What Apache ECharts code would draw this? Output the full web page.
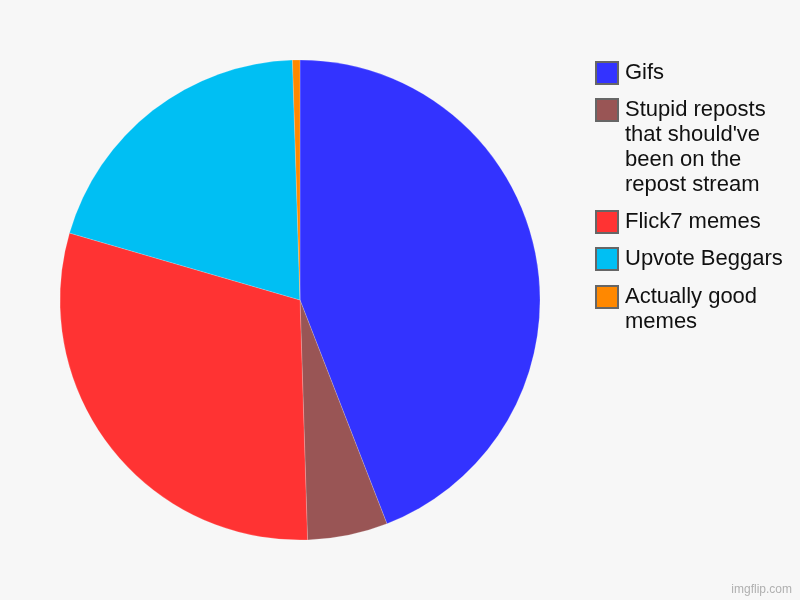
<!DOCTYPE html>
<html>
<head>
<meta charset="utf-8">
<script src="https://cdn.jsdelivr.net/npm/echarts@6/dist/echarts.min.js"></script>
<style>html,body{margin:0;padding:0;background:#f7f7f7}#c{width:800px;height:600px}</style>
</head>
<body>
<div id="c"></div>
<script>
const categories = ["Gifs", "Stupid reposts that should've been on the repost stream", "Flick7 memes", "Upvote Beggars", "Actually good memes"];
const values = [44.1, 5.4, 30.0, 20.0, 0.5];
const colors = ["#3333ff", "#995555", "#ff3333", "#00bff3", "#ff8800"];

const chart = echarts.init(document.getElementById('c'), null, {renderer: 'canvas'});

// legend built from the categories/colors arrays, icon aligned with first text line
const legendTops = [61, 98, 210, 247, 285];
const legendGraphics = [];
categories.forEach((name, i) => {
  legendGraphics.push({
    type: 'rect', left: 595, top: legendTops[i],
    shape: {width: 22, height: 22},
    style: {fill: colors[i], stroke: '#666666', lineWidth: 2}
  });
  legendGraphics.push({
    type: 'text', left: 625, top: legendTops[i] - 1,
    style: {
      text: name, fill: '#111111', fontSize: 22, fontFamily: 'Liberation Sans, Arial, sans-serif',
      width: 168, overflow: 'break', lineHeight: 25
    }
  });
});
legendGraphics.push({
  type: 'text', right: 8, bottom: 4,
  style: {text: 'imgflip.com', fill: '#b0b0b0', fontSize: 12, fontFamily: 'Liberation Sans, Arial, sans-serif'}
});

chart.setOption({
  backgroundColor: '#f7f7f7',
  animation: false,
  color: colors,
  series: [{
    type: 'pie',
    center: [300, 300],
    radius: [0, 240],
    startAngle: 90,
    clockwise: true,
    label: {show: false},
    labelLine: {show: false},
    emphasis: {disabled: true},
    itemStyle: {borderColor: 'rgba(255,255,255,0.35)', borderWidth: 0.5},
    data: categories.map((n, i) => ({name: n, value: values[i]}))
  }],
  graphic: legendGraphics
});
</script>
</body>
</html>
